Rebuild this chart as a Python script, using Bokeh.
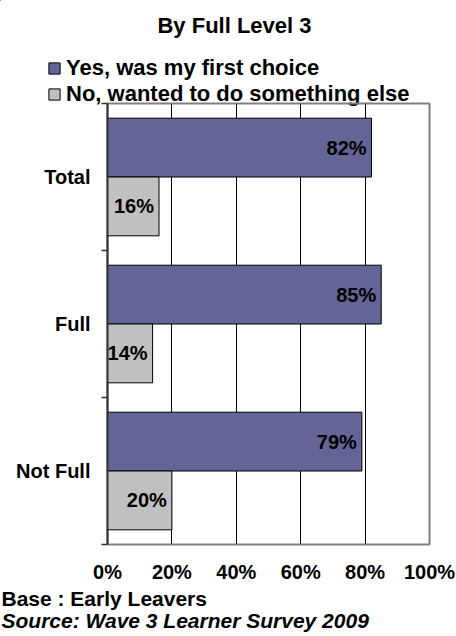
from bokeh.plotting import figure
from bokeh.layouts import column
from bokeh.models import (Range1d, FixedTicker, Legend, LegendItem, ColumnDataSource)
from bokeh.embed import file_html
from bokeh.resources import INLINE
from bokeh.core.properties import value

# ---- data ----
categories = ["Total", "Full", "Not Full"]
yes_values = [82, 85, 79]
no_values = [16, 14, 20]
series_names = ["Yes, was my first choice", "No, wanted to do something else"]
x_ticks = [0, 20, 40, 60, 80, 100]
x_tick_labels = ["0%", "20%", "40%", "60%", "80%", "100%"]
title_text = "By Full Level 3"
base_text = "Base : Early Leavers"
source_text = "Source: Wave 3 Learner Survey 2009"

YES_COLOR = "#646496"
NO_COLOR = "#C0C0C0"
FONT = "Liberation Sans"
W = 456
HEAD_H = 110      # header overlaps the chart by OVERLAP px (transparent there)
OVERLAP = 8
FOOT_H = 50
MAIN_H = 636 - (HEAD_H - OVERLAP) - FOOT_H

# ---- header: title + legend ----
head = figure(width=W, height=HEAD_H, output_backend="svg", toolbar_location=None,
              x_range=Range1d(0, W), y_range=Range1d(HEAD_H, 0),
              x_axis_type=None, y_axis_type=None, min_border=0,
              frame_align=False)
head.title.visible = False
head.outline_line_color = None
head.background_fill_color = "white"
head.border_fill_color = "white"
head.text(x=[234], y=[25], text=[title_text], text_align="center",
          text_baseline="middle", text_font=value(FONT), text_font_style="bold",
          text_font_size="22px", text_color="black")
# legend-only renderers (their single bar lies outside the visible range)
offscreen = ColumnDataSource(dict(y=[-1000], right=[0]))
d_yes = head.hbar(y="y", right="right", left=0, height=1, source=offscreen,
                  fill_color=YES_COLOR, line_color="black", line_width=1)
d_no = head.hbar(y="y", right="right", left=0, height=1, source=offscreen,
                 fill_color=NO_COLOR, line_color="black", line_width=1)
legend = Legend(items=[LegendItem(label=series_names[0], renderers=[d_yes]),
                       LegendItem(label=series_names[1], renderers=[d_no])],
                location=(47, 3), orientation="vertical",
                glyph_width=14, glyph_height=14, label_standoff=5,
                spacing=0, padding=0, margin=0,
                label_text_font=FONT, label_text_font_style="bold",
                label_text_font_size="22px", label_text_color="black",
                label_height=24,
                background_fill_alpha=0, border_line_color=None)
head.add_layout(legend, "center")

# ---- main chart ----
n = len(categories)
centers = [2 * (n - i) - 1 for i in range(n)]          # 5, 3, 1
boundaries = [2 * k for k in range(n + 1)]              # 0, 2, 4, 6

src_yes = ColumnDataSource(dict(
    y=[c + 0.4 for c in centers], x=yes_values,
    lbl=[f"{v}%" for v in yes_values]))
src_no = ColumnDataSource(dict(
    y=[c - 0.4 for c in centers], x=no_values,
    lbl=[f"{v}%" for v in no_values]))

p = figure(width=W, height=MAIN_H, output_backend="svg", toolbar_location=None,
           x_range=Range1d(0, 100), y_range=Range1d(0, 2 * n),
           min_border_left=107, min_border_right=27,
           min_border_top=1, min_border_bottom=42, frame_align=False,
           styles={"margin-top": f"-{OVERLAP}px"})
p.title.visible = False
p.background_fill_alpha = 0
p.border_fill_alpha = 0
p.outline_line_color = "#808080"
p.outline_line_width = 2

p.ygrid.visible = False
p.xgrid.ticker = FixedTicker(ticks=x_ticks[1:-1])
p.xgrid.grid_line_color = "black"
p.xgrid.grid_line_width = 1

r_yes = p.hbar(y="y", right="x", left=0, height=0.8, source=src_yes,
               fill_color=YES_COLOR, line_color="black", line_width=1)
r_no = p.hbar(y="y", right="x", left=0, height=0.8, source=src_no,
              fill_color=NO_COLOR, line_color="black", line_width=1)

for s in (src_yes, src_no):
    p.text(x="x", y="y", text="lbl", source=s, x_offset=-5,
           text_align="right", text_baseline="middle",
           text_font=value(FONT), text_font_style="bold",
           text_font_size="20px", text_color="black")

xa = p.xaxis[0]
xa.ticker = FixedTicker(ticks=x_ticks)
xa.major_label_overrides = {t: l for t, l in zip(x_ticks, x_tick_labels)}
xa.axis_line_color = None
xa.major_tick_line_color = None
xa.minor_tick_line_color = None
xa.major_tick_out = 0
xa.major_tick_in = 0
xa.major_label_standoff = 16
xa.major_label_text_font = FONT
xa.major_label_text_font_style = "bold"
xa.major_label_text_font_size = "20px"
xa.major_label_text_color = "black"

ya = p.yaxis[0]
ya.ticker = FixedTicker(ticks=centers, minor_ticks=boundaries)
ya.major_label_overrides = {c: name for c, name in zip(centers, categories)}
ya.axis_line_color = "#333333"
ya.axis_line_width = 2
ya.major_tick_line_color = None
ya.major_tick_out = 0
ya.major_tick_in = 0
ya.minor_tick_line_color = "#333333"
ya.minor_tick_line_width = 1.5
ya.minor_tick_out = 6
ya.minor_tick_in = 0
ya.major_label_standoff = 11
ya.major_label_text_font = FONT
ya.major_label_text_font_style = "bold"
ya.major_label_text_font_size = "20px"
ya.major_label_text_color = "black"

# ---- footer ----
foot = figure(width=W, height=FOOT_H, output_backend="svg", toolbar_location=None,
              x_range=Range1d(0, W), y_range=Range1d(FOOT_H, 0),
              x_axis_type=None, y_axis_type=None, min_border=0,
              frame_align=False)
foot.title.visible = False
foot.outline_line_color = None
foot.background_fill_color = "white"
foot.border_fill_color = "white"
foot.text(x=[1], y=[11.5], text=[base_text], text_align="left",
          text_baseline="middle", text_font=value(FONT), text_font_style="bold",
          text_font_size="21px", text_color="black")
foot.text(x=[1], y=[33.7], text=[source_text], text_align="left",
          text_baseline="middle", text_font=value(FONT),
          text_font_style="bold italic",
          text_font_size="21px", text_color="black")

layout = column(head, p, foot, spacing=0)
open("out.html", "w").write(file_html(layout, INLINE))
